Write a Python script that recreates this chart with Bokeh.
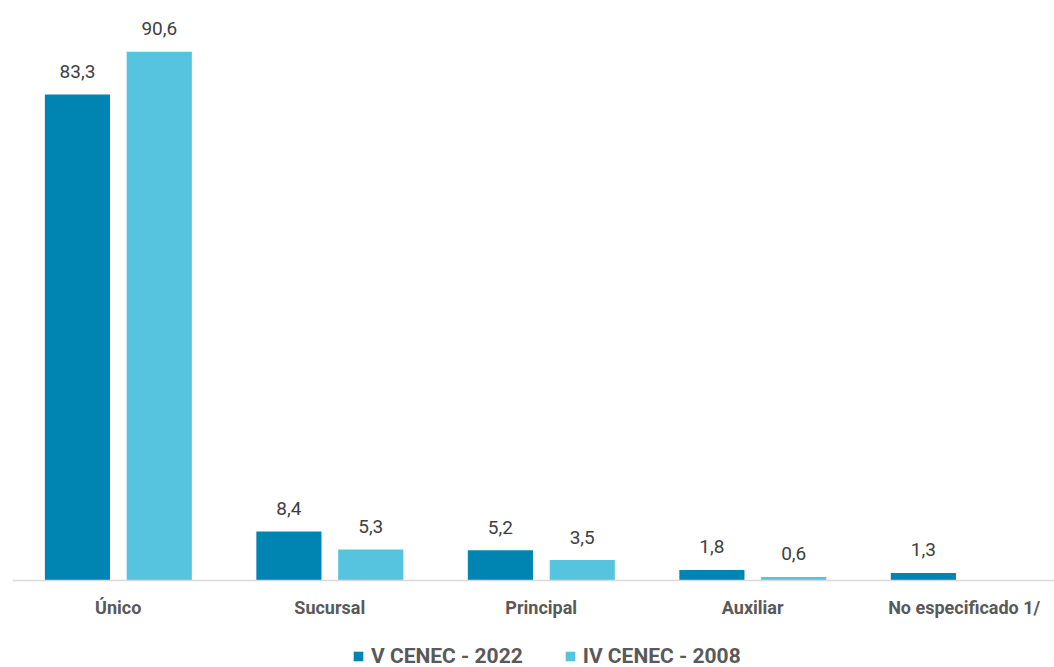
from bokeh.plotting import figure
from bokeh.models import ColumnDataSource, Legend, LegendItem, LabelSet, FixedTicker
from bokeh.core.properties import value
from bokeh.transform import dodge
from bokeh.embed import file_html
from bokeh.resources import INLINE

categories = ["Único", "Sucursal", "Principal", "Auxiliar", "No especificado 1/"]
series_names = ["V CENEC - 2022", "IV CENEC - 2008"]
v2022 = [83.3, 8.4, 5.2, 1.8, 1.3]
v2008 = [90.6, 5.3, 3.5, 0.6, None]

DARK = "#0085B3"
LIGHT = "#56C4DE"
FONT = "Roboto"

def fmt(v):
    return "" if v is None else f"{v:.1f}".replace(".", ",")

pos = [i + 0.5 for i in range(len(categories))]
src1 = ColumnDataSource(dict(x=pos, val=v2022, lab=[fmt(v) for v in v2022]))
x2 = [x for x, v in zip(pos, v2008) if v is not None]
val2 = [v for v in v2008 if v is not None]
src2 = ColumnDataSource(dict(x=x2, val=val2, lab=[fmt(v) for v in val2]))

p = figure(width=1054, height=667, x_range=(0, 4.927),
           y_range=(-14.91, 99.4), output_backend="svg", toolbar_location=None,
           min_border_left=12, min_border_right=0, min_border_top=0, min_border_bottom=0)

r1 = p.vbar(x=dodge("x", -0.193), top="val", width=0.308, source=src1,
            fill_color=DARK, line_color=None)
r2 = p.vbar(x=dodge("x", 0.194), top="val", width=0.308, source=src2,
            fill_color=LIGHT, line_color=None)

for src, off in ((src1, -0.193), (src2, 0.194)):
    p.add_layout(LabelSet(x=dodge("x", off), y="val", text="lab", source=src,
                          text_align="center", text_baseline="middle", y_offset=23,
                          text_font=value(FONT), text_font_size="19px", text_color="#404040"))

p.yaxis.visible = False
p.xgrid.visible = False
p.ygrid.visible = False
p.outline_line_color = None
p.xaxis.fixed_location = 0
p.xaxis.ticker = FixedTicker(ticks=pos)
p.xaxis.major_label_overrides = {x: c for x, c in zip(pos, categories)}
p.xaxis.axis_line_color = "#D9D9D9"
p.xaxis.axis_line_width = 1.5
p.xaxis.major_tick_line_color = None
p.xaxis.minor_tick_line_color = None
p.xaxis.major_tick_out = 0
p.xaxis.major_tick_in = 0
p.xaxis.major_label_text_font = FONT
p.xaxis.major_label_text_font_size = "18px"
p.xaxis.major_label_text_font_style = "bold"
p.xaxis.major_label_text_color = "#595959"
p.xaxis.major_label_standoff = 16

legend = Legend(items=[LegendItem(label=series_names[0], renderers=[r1]),
                       LegendItem(label=series_names[1], renderers=[r2])],
                orientation="horizontal", location=(340, -1),
                label_text_font=FONT, label_text_font_size="21px", label_text_font_style="bold",
                label_text_color="#595959", glyph_width=12, glyph_height=12,
                label_standoff=7, spacing=41, border_line_color=None,
                background_fill_alpha=0, margin=0, padding=0, label_height=20)
p.add_layout(legend, "center")

open("out.html", "w").write(file_html(p, INLINE))
